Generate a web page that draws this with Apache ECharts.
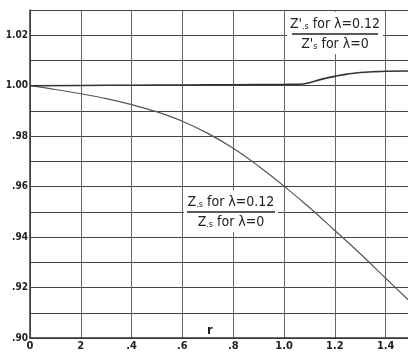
<!DOCTYPE html>
<html><head><meta charset="utf-8">
<script src="https://cdn.jsdelivr.net/npm/echarts@6/dist/echarts.min.js"></script>
<style>html,body{margin:0;padding:0;background:#fff}#c{width:408px;height:356px}</style>
</head><body><div id="c"></div>
<script>
// ---- data ----
const xTickLabels = ['0', '2', '.4', '.6', '.8', '1.0', '1.2', '1.4'];
const yTickLabels = { '90': '.90', '92': '.92', '94': '.94', '96': '.96', '98': '.98', '100': '1.00', '102': '1.02' };
const rLower = [0, 0.1, 0.2, 0.3, 0.4, 0.5, 0.6, 0.7, 0.8, 0.9, 1.0, 1.1, 1.2, 1.3, 1.4, 1.49];
const zLower = [1.000, 0.9985, 0.9968, 0.9949, 0.9925, 0.9896, 0.9859, 0.9811, 0.9752, 0.9681, 0.9602, 0.9517, 0.9426, 0.9334, 0.9237, 0.9150];
const rUpper = [0, 0.2, 0.4, 0.6, 0.8, 1.0, 1.06, 1.1, 1.15, 1.2, 1.25, 1.3, 1.35, 1.4, 1.49];
const zUpper = [1.000, 1.0001, 1.0002, 1.0003, 1.0004, 1.0005, 1.0006, 1.0012, 1.0026, 1.0037, 1.0046, 1.0052, 1.0055, 1.0057, 1.0058];

const chart = echarts.init(document.getElementById('c'));
const FONT = '"DejaVu Sans Condensed", "Liberation Sans Narrow", "DejaVu Sans", sans-serif';
const sub = { fontSize: 9, padding: [5, 0, 0, 0], fontFamily: FONT, fill: '#222' };

function frac(cx, yTop, num, den, barW, rectW) {
  return [
    { type: 'rect', z: 100, shape: { x: cx - rectW / 2, y: yTop - 4, width: rectW, height: 42 }, style: { fill: '#fff' } },
    { type: 'text', z: 101, x: cx, y: yTop + 8, style: { text: num, align: 'center', verticalAlign: 'middle', font: '14px ' + FONT, fill: '#222', rich: { s: sub } } },
    { type: 'line', z: 101, shape: { x1: cx - barW / 2, y1: yTop + 18, x2: cx + barW / 2, y2: yTop + 18 }, style: { stroke: '#222', lineWidth: 1.3 } },
    { type: 'text', z: 101, x: cx, y: yTop + 28, style: { text: den, align: 'center', verticalAlign: 'middle', font: '14px ' + FONT, fill: '#222', rich: { s: sub } } }
  ];
}

chart.setOption({
  backgroundColor: '#fff',
  animation: false,
  grid: { left: 30, right: 0, top: 10, bottom: 18, containLabel: false, outerBoundsMode: 'none' },
  xAxis: {
    type: 'value', min: 0, max: 1.488, interval: 0.2,
    axisLine: { show: true, onZero: false, lineStyle: { color: '#333', width: 1.5 } },
    axisTick: { show: false },
    axisLabel: {
      showMaxLabel: false, margin: 3,
      color: '#222', fontFamily: FONT, fontWeight: 'bold', fontSize: 11,
      formatter: v => xTickLabels[Math.round(v / 0.2)] || ''
    },
    splitLine: { show: true, lineStyle: { color: '#666', width: 1 } }
  },
  yAxis: {
    type: 'value', min: 0.90, max: 1.03, interval: 0.01,
    axisLine: { show: true, lineStyle: { color: '#333', width: 1.5 } },
    axisTick: { show: false },
    axisLabel: {
      margin: 2, color: '#222', fontFamily: FONT, fontWeight: 'bold', fontSize: 10,
      formatter: v => yTickLabels[String(Math.round(v * 100))] || ''
    },
    splitLine: { show: true, lineStyle: { color: '#444', width: 1 } }
  },
  series: [
    {
      type: 'line', smooth: 0.4, symbol: 'none', z: 3,
      data: rLower.map((r, i) => [r, zLower[i]]),
      lineStyle: { color: '#555', width: 1.2 }
    },
    {
      type: 'line', smooth: true, symbol: 'none', z: 3,
      data: rUpper.map((r, i) => [r, zUpper[i]]),
      lineStyle: { color: '#333', width: 1.6 }
    }
  ],
  graphic: [
    ...frac(335, 16, "Z'{s|.s} for λ=0.12", "Z'{s|s} for λ=0", 86, 96),
    ...frac(231, 194, "Z{s|.s} for λ=0.12", "Z{s|.s} for λ=0", 88, 94),
    { type: 'text', z: 101, x: 210, y: 331, style: { text: 'r', align: 'center', verticalAlign: 'middle', font: 'bold 13px ' + FONT, fill: '#222' } }
  ]
});
</script></body></html>
